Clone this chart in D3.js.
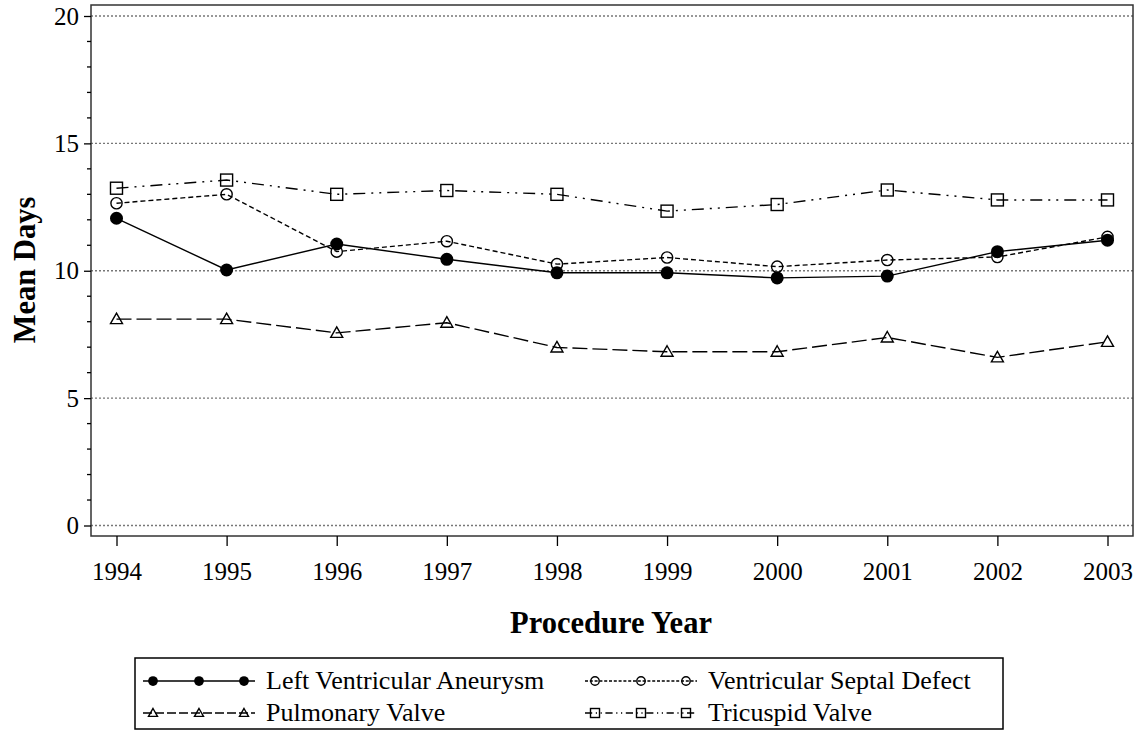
<!DOCTYPE html>
<html>
<head>
<meta charset="utf-8">
<script src="https://cdn.jsdelivr.net/npm/d3@7"></script>
<style>
  body { margin: 0; background: #fff; }
  svg, svg text { font-family: "Liberation Serif", "Times New Roman", Times, serif; }
</style>
</head>
<body>
<div id="chart"></div>
<script>
// data
const years = [1994, 1995, 1996, 1997, 1998, 1999, 2000, 2001, 2002, 2003]
const leftVentricular = [12.06, 10.03, 11.05, 10.45, 9.92, 9.92, 9.72, 9.79, 10.75, 11.2]
const septalDefect = [12.65, 13.0, 10.75, 11.16, 10.26, 10.52, 10.16, 10.42, 10.54, 11.33]
const pulmonary = [8.1, 8.1, 7.56, 7.96, 6.99, 6.82, 6.82, 7.38, 6.6, 7.21]
const tricuspid = [13.24, 13.56, 13.0, 13.15, 13.0, 12.34, 12.6, 13.17, 12.78, 12.78]
const yTicks = [0, 5, 10, 15, 20]

const serif = '"Liberation Serif", "Times New Roman", Times, serif'

const seriesList = [
  { name: 'Left Ventricular Aneurysm', values: leftVentricular, dash: null, marker: 'dot' },
  { name: 'Ventricular Septal Defect', values: septalDefect, dash: '5,3', marker: 'circle' },
  { name: 'Pulmonary Valve', values: pulmonary, dash: '15,5', marker: 'triangle' },
  { name: 'Tricuspid Valve', values: tricuspid, dash: '12,6,2,6,2,6', marker: 'square' },
]

const width = 1138, height = 730
const frame = { left: 91, right: 1133, top: 5, bottom: 536 }

const svg = d3.select('#chart').append('svg')
  .attr('width', width)
  .attr('height', height)
  .style('font-family', serif)

const x = d3.scalePoint().domain(years).range([116.5, 1107.5])
const y = d3.scaleLinear().domain([0, 20]).range([525.5, 16])

// grid lines
svg.append('g')
  .selectAll('line')
  .data(yTicks)
  .enter()
  .append('line')
  .attr('x1', frame.left)
  .attr('x2', frame.right)
  .attr('y1', d => y(d))
  .attr('y2', d => y(d))
  .attr('stroke', '#777')
  .attr('stroke-width', 1.3)
  .attr('stroke-dasharray', '2,2')

// frame
svg.append('rect')
  .attr('x', frame.left)
  .attr('y', frame.top)
  .attr('width', frame.right - frame.left)
  .attr('height', frame.bottom - frame.top)
  .attr('fill', 'none')
  .attr('stroke', '#333')
  .attr('stroke-width', 1.5)

// y axis
const yAxis = svg.append('g')
  .attr('transform', `translate(${frame.left},0)`)
  .call(d3.axisLeft(y).tickValues(yTicks).tickSize(7).tickPadding(5).tickFormat(d3.format('d')))
yAxis.attr('font-family', null).attr('font-size', null)
yAxis.select('.domain').remove()
yAxis.selectAll('text').attr('font-size', 25).style('font-family', serif).attr('fill', '#000')
yAxis.selectAll('line').attr('stroke', '#000').attr('stroke-width', 1.3)

// minor ticks
svg.append('g')
  .selectAll('line')
  .data(d3.range(0, 21).filter(v => v % 5 !== 0))
  .enter()
  .append('line')
  .attr('x1', frame.left - 4)
  .attr('x2', frame.left)
  .attr('y1', d => y(d))
  .attr('y2', d => y(d))
  .attr('stroke', '#000')
  .attr('stroke-width', 1.3)

// x axis
const xAxis = svg.append('g')
  .attr('transform', `translate(0,${frame.bottom})`)
  .call(d3.axisBottom(x).tickSize(10).tickPadding(16))
xAxis.attr('font-family', null).attr('font-size', null)
xAxis.select('.domain').remove()
xAxis.selectAll('text').attr('font-size', 25).style('font-family', serif).attr('fill', '#000')
xAxis.selectAll('line').attr('stroke', '#000').attr('stroke-width', 1.3)

// axis titles
svg.append('text')
  .attr('x', 611)
  .attr('y', 633)
  .attr('text-anchor', 'middle')
  .attr('font-size', 30.5)
  .attr('font-weight', 'bold')
  .style('font-family', serif)
  .text('Procedure Year')

svg.append('text')
  .attr('transform', 'translate(35,270) rotate(-90)')
  .attr('text-anchor', 'middle')
  .attr('font-size', 30.5)
  .attr('font-weight', 'bold')
  .style('font-family', serif)
  .text('Mean Days')

function drawMarker(g, type, cx, cy, s) {
  if (type === 'dot') {
    g.append('circle').attr('cx', cx).attr('cy', cy).attr('r', 6.5 * s).attr('fill', '#000')
  } else if (type === 'circle') {
    g.append('circle').attr('cx', cx).attr('cy', cy).attr('r', 5.6 * s)
      .attr('fill', 'none').attr('stroke', '#000').attr('stroke-width', 1.4)
  } else if (type === 'square') {
    const h = 6 * s
    g.append('rect').attr('x', cx - h).attr('y', cy - h).attr('width', 2 * h).attr('height', 2 * h)
      .attr('fill', 'none').attr('stroke', '#000').attr('stroke-width', 1.4)
  } else if (type === 'triangle') {
    const h = 6 * s
    g.append('path')
      .attr('d', `M${cx},${cy - h}L${cx + h},${cy + h * 0.75}L${cx - h},${cy + h * 0.75}Z`)
      .attr('fill', 'none').attr('stroke', '#000').attr('stroke-width', 1.4)
  }
}

const line = d3.line()
  .x((d, i) => x(years[i]))
  .y(d => y(d))

seriesList.forEach(s => {
  const g = svg.append('g')
  g.append('path')
    .attr('d', line(s.values))
    .attr('fill', 'none')
    .attr('stroke', '#000')
    .attr('stroke-width', 1.4)
    .attr('stroke-dasharray', s.dash)
  s.values.forEach((v, i) => drawMarker(g, s.marker, x(years[i]), y(v), 1))
})

// legend
svg.append('rect')
  .attr('x', 135)
  .attr('y', 658)
  .attr('width', 868)
  .attr('height', 71)
  .attr('fill', 'none')
  .attr('stroke', '#000')
  .attr('stroke-width', 1.5)

const legendPos = [
  { x: 143, y: 681 },
  { x: 585, y: 681 },
  { x: 143, y: 713 },
  { x: 585, y: 713 },
]

seriesList.forEach((s, i) => {
  const p = legendPos[i]
  const g = svg.append('g')
  g.append('line')
    .attr('x1', p.x).attr('x2', p.x + 112)
    .attr('y1', p.y).attr('y2', p.y)
    .attr('stroke', '#000')
    .attr('stroke-width', 1.3)
    .attr('stroke-dasharray', s.dash ? s.dash.split(',').map(v => v * 0.6).join(',') : null)
  ;[10, 56, 101].forEach(dx => drawMarker(g, s.marker, p.x + dx, p.y, 0.75))
  g.append('text')
    .attr('x', p.x + 123)
    .attr('y', p.y + 8)
    .attr('font-size', 26)
    .style('font-family', serif)
    .text(s.name)
})
</script>
</body>
</html>
